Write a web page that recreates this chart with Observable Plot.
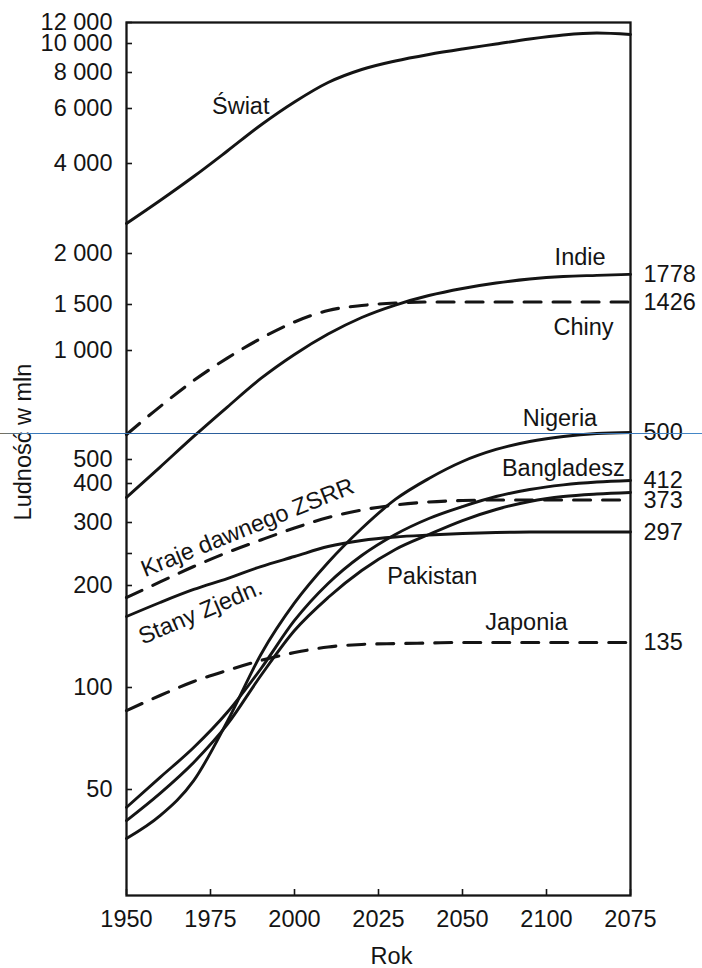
<!DOCTYPE html>
<html>
<head>
<meta charset="utf-8">
<script src="https://cdn.jsdelivr.net/npm/d3@7"></script>
<script src="https://cdn.jsdelivr.net/npm/@observablehq/plot@0.6"></script>
<style>
  body { margin: 0; background: #fff; }
  #chart { position: relative; width: 702px; height: 968px; }
  #scanline { position: absolute; left: 0; top: 433px; width: 702px; height: 1px;
    background: linear-gradient(to right, #7a705a 0px, #3b7bbd 30px, #23508a 45%, #2a5a96 70%, #4488c8 100%); }
</style>
</head>
<body>
<div id="chart"></div>
<script>
// ---- data (millions) ----
const years = [1950, 1960, 1970, 1980, 1990, 2000, 2010, 2020, 2030, 2040, 2050, 2060, 2070, 2080, 2090, 2100];

const swiat      = [2520, 3008, 3619, 4386, 5313, 6321, 7386, 8187, 8740, 9189, 9586, 9962, 10399, 10766, 10955, 10813];
const indie      = [361, 466, 579, 698, 837, 975, 1156, 1338, 1493, 1578, 1642, 1693, 1732, 1757, 1768, 1778];
const chiny      = [586, 700, 826, 953, 1112, 1286, 1423, 1487, 1513, 1521, 1521, 1521, 1521, 1521, 1521, 1521];
const nigeria    = [35.9, 41.9, 53.1, 79.4, 125.2, 177.6, 234.8, 289.6, 355.6, 419, 490.8, 532.9, 560.6, 578.7, 589.9, 593.8];
const bangladesz = [44.3, 54.3, 66.5, 84.5, 113.6, 157.7, 202.8, 246.5, 279.6, 309, 337.5, 363.4, 382.7, 396, 405.6, 411.3];
const pakistan   = [40.5, 48.7, 60.1, 77.8, 108.5, 147.3, 184.3, 222.1, 256, 279.6, 304.4, 330.2, 350.3, 363.4, 370.2, 374.3];
const zsrr       = [184.3, 205, 228.3, 251.5, 270.7, 290.4, 311.3, 329, 341.3, 349, 352.9, 354.2, 354.2, 354.2, 354.2, 354.2];
const usa        = [162, 178.2, 194.7, 210, 228.3, 244.8, 260.5, 269.9, 275.5, 278.7, 281.2, 282.9, 283.7, 283.7, 283.7, 283.7];
const japonia    = [85.5, 94.7, 104.2, 112.3, 120.2, 126.8, 131.7, 134, 134.8, 135.3, 135.8, 135.8, 135.8, 135.8, 135.8, 135.8];

const seriesNames  = ["Świat", "Indie", "Chiny", "Nigeria", "Bangladesz", "Pakistan", "Kraje dawnego ZSRR", "Stany Zjedn.", "Japonia"];
const seriesValues = [swiat, indie, chiny, nigeria, bangladesz, pakistan, zsrr, usa, japonia];
const seriesDashed = [false, false, true, false, false, false, true, false, true];

// curve labels
const labelSeries = ["Świat", "Indie", "Chiny", "Nigeria", "Bangladesz", "Pakistan", "Japonia", "Kraje dawnego ZSRR", "Stany Zjedn."];
const labelYears  = [1984, 2085, 2086, 2079, 2080, 2041, 2069, 1986, 1972];
const labelValues = [6100, 1955, 1225, 649, 460, 213, 155.5, 291, 167];
const labelAngles = [0, 0, 0, 0, 0, 0, 0, -22, -23];

// end-of-line labels
const endSeries = ["Indie", "Chiny", "Nigeria", "Bangladesz", "Kraje dawnego ZSRR", "Stany Zjedn.", "Japonia"];
const endTexts  = ["1778", "1426", "500", "412", "373", "297", "135"];

// axis ticks
const xTicks  = [1950, 1975, 2000, 2025, 2050, 2075, 2100];
const xLabels = ["1950", "1975", "2000", "2025", "2050", "2100", "2075"];
const yTicks  = [12000, 10000, 8000, 6000, 4000, 2000, 1500, 1000, 500, 400, 300, 250, 200, 100, 50];
const yLabels = ["12 000", "10 000", "8 000", "6 000", "4 000", "2 000", "1 500", "1 000", "500", "400", "300", "", "200", "100", "50"];

// ---- build tables ----
const rows = seriesNames.flatMap((name, s) =>
  years.map((year, i) => ({series: name, year, value: seriesValues[s][i], dashed: seriesDashed[s]})));
const curveLabels = labelSeries.map((name, i) => ({label: name, year: labelYears[i], value: labelValues[i], angle: labelAngles[i]}));
const endRows = endSeries.map((name, i) => {
  const v = seriesValues[seriesNames.indexOf(name)];
  return {text: endTexts[i], year: years[years.length - 1], value: v[v.length - 1]};
});
const yTickRows = yTicks.map((t, i) => ({value: t, label: yLabels[i]}));
const xLabelMap = new Map(xTicks.map((t, i) => [t, xLabels[i]]));

const ink = "#141414";
const fs = 23.5;

const chart = Plot.plot({
  width: 702,
  height: 968,
  marginLeft: 126,
  marginRight: 72,
  marginTop: 22,
  marginBottom: 73,
  style: {fontFamily: "'Liberation Sans', Arial, Helvetica, sans-serif", fontSize: fs + "px", color: ink, background: "#fff"},
  x: {domain: [1950, 2100]},
  y: {
    type: "log",
    // hand-drawn, slightly irregular logarithmic axis of the original figure
    domain: [24.4, 50, 100, 200, 250, 300, 400, 500, 1000, 1500, 2000, 4000, 6000, 8000, 10000, 12000],
    range:  [895, 789, 687, 585, 553, 522, 483, 459, 350, 304, 253, 163, 108, 72, 43, 22]
  },
  marks: [
    Plot.line(rows.filter(d => !d.dashed), {x: "year", y: "value", z: "series", stroke: ink, strokeWidth: 2.9, curve: "monotone-x"}),
    Plot.line(rows.filter(d => d.dashed), {x: "year", y: "value", z: "series", stroke: ink, strokeWidth: 3.1, strokeDasharray: "17,12", curve: "monotone-x"}),
    Plot.frame({stroke: ink, strokeWidth: 2.3}),
    Plot.axisX({ticks: xTicks, tickFormat: d => xLabelMap.get(d), tickSize: -6, tickPadding: 21, label: null, fontSize: fs, stroke: ink, strokeWidth: 1.6}),
    Plot.axisY({ticks: yTicks, tickFormat: () => "", tickSize: -6, label: null, stroke: ink, strokeWidth: 1.6}),
    Plot.text(yTickRows, {y: "value", text: "label", frameAnchor: "left", dx: -14, textAnchor: "end", lineAnchor: "middle", fontSize: fs, fill: ink}),
    Plot.text(curveLabels, {x: "year", y: "value", text: "label", rotate: "angle", fontSize: fs, fill: ink, textAnchor: "middle", lineAnchor: "middle"}),
    Plot.text(endRows, {x: "year", y: "value", text: "text", dx: 13, textAnchor: "start", lineAnchor: "middle", fontSize: fs, fill: ink}),
    Plot.text(["Ludność w mln"], {text: d => d, frameAnchor: "left", dx: -103, dy: -17, rotate: -90, textAnchor: "middle", lineAnchor: "middle", fontSize: fs, fill: ink}),
    Plot.text(["Rok"], {text: d => d, frameAnchor: "bottom", dx: 13, dy: 61, textAnchor: "middle", lineAnchor: "middle", fontSize: fs, fill: ink})
  ]
});

const holder = document.getElementById("chart");
holder.appendChild(chart);
const scan = document.createElement("div");
scan.id = "scanline";
holder.appendChild(scan);
</script>
</body>
</html>
